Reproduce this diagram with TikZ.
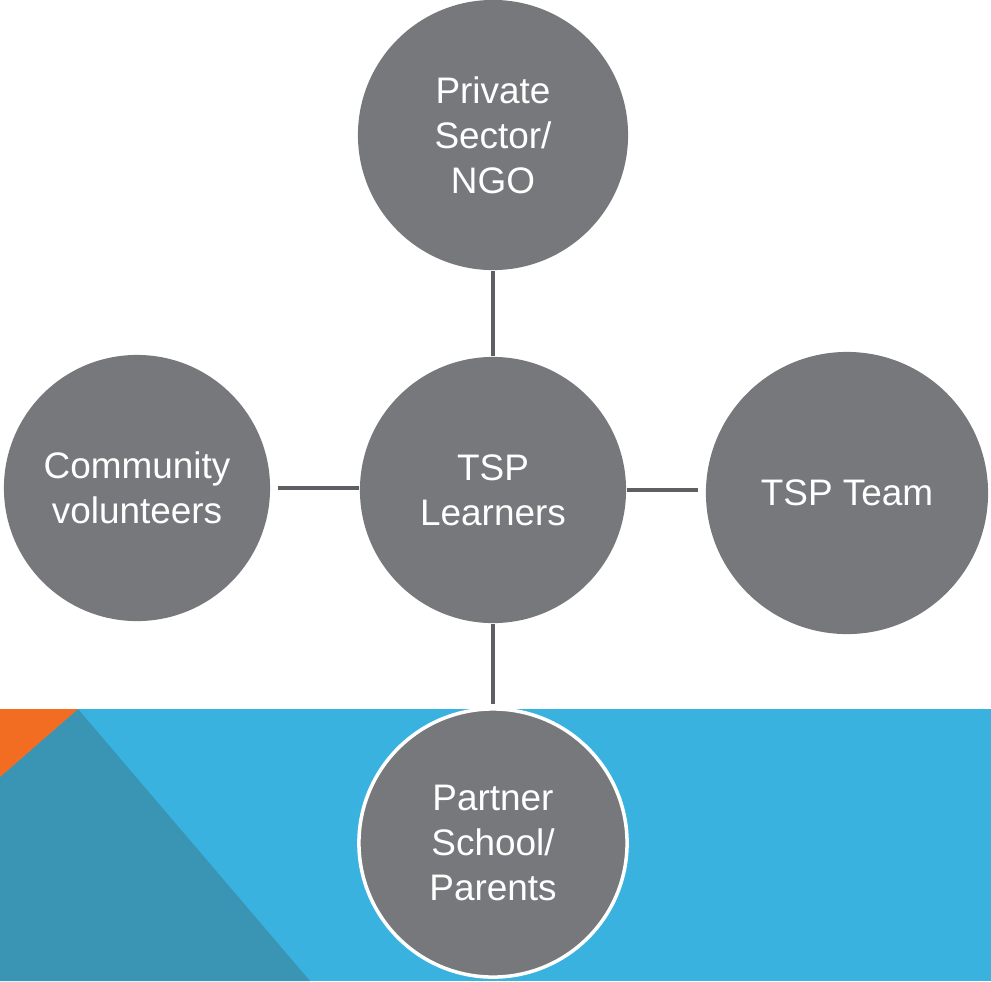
\documentclass[tikz,border=0pt]{standalone}
\usepackage{fontspec}
\setmainfont{Liberation Sans}
\definecolor{circgray}{HTML}{77787B}
\definecolor{linkgray}{HTML}{5E5F62}
\definecolor{bandblue}{HTML}{3AB2E0}
\definecolor{bandteal}{HTML}{3A94B4}
\definecolor{bandorange}{HTML}{F26C22}

\begin{document}
\begin{tikzpicture}[x=0.01cm, y=-0.01cm,
	hub/.style={circle, fill=circgray, text=white, align=center, inner sep=0pt,
	minimum size=#1, font=\fontsize{10.5}{12.8}\selectfont},
	link/.style={draw=linkgray, line width=1.4pt}]
\useasboundingbox (0,0) rectangle (991,981);
% blue band at the bottom
\fill[bandblue] (0,709) rectangle (991,981);
\fill[bandteal] (0,777) -- (78,709) -- (310,981) -- (0,981) -- cycle;
\fill[bandorange] (0,709) -- (78,709) -- (0,777) -- cycle;
% circles
\node[hub=2.7cm] (ngo) at (493,135) {Private\\Sector/\\NGO};
\node[hub=2.66cm] (learn) at (493,490) {TSP\\Learners};
\node[hub=2.66cm] (comm) at (137,488) {Community\\volunteers};
\node[hub=2.82cm] (team) at (847,493) {TSP Team};
\node[hub=2.68cm, draw=white, line width=1pt] (school) at (493,843) {Partner\\School/\\Parents};
% connectors
\draw[link] (ngo) -- (learn);
\draw[link, shorten <=0.07cm] (comm.east) -- (comm.east -| learn.west);
\draw[link, shorten >=0.07cm] (learn.east) -- (learn.east -| team.west);
\draw[link, shorten >=0.03cm] (learn) -- (school);
\end{tikzpicture}
\end{document}
